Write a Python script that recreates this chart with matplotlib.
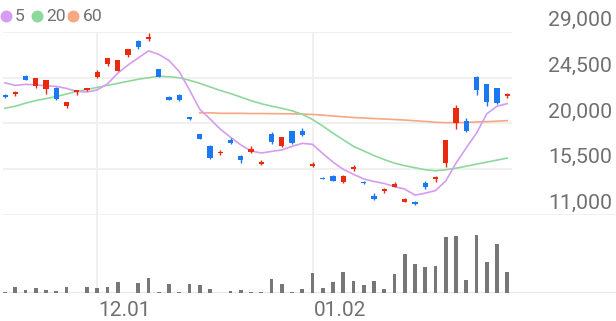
import matplotlib.pyplot as plt
from matplotlib.lines import Line2D
import numpy as np

plt.rcParams['font.family'] = ['Roboto', 'DejaVu Sans']

# daily candles, oldest first
opens = [22850, 22900, 24700, 23700, 23400, 23500, 21750, 23050, 23250, 24550,
         25900, 25200, 26750, 28100, 28300, 25350, 22650, 22850, 20600, 18950,
         17800, 17050, 18400, 16800, 17150, 16050, 19000, 17800, 19250, 19300,
         15800, 14650, 14850, 14200, 15500, 14250, 12900, 13400, 13800, 12300,
         12250, 14100, 14550, 16100, 20050, 20250, 24600, 23850, 23450, 22750]
highs = [22950, 23150, 24750, 24500, 24300, 23550, 22150, 23300, 23500, 25250,
         26450, 26250, 27350, 28250, 28900, 25400, 22700, 22900, 20650, 19000,
         17850, 17350, 18550, 16950, 17750, 16400, 19150, 18700, 19300, 19600,
         16200, 14700, 14900, 14900, 15900, 14300, 13150, 13650, 14200, 12650,
         12350, 14300, 14800, 18400, 21800, 20550, 24650, 23900, 23500, 23000]
lows = [22550, 22750, 24250, 23500, 22950, 22350, 21500, 22850, 23200, 24500,
        25700, 25150, 26500, 27350, 28100, 24550, 22300, 22250, 20350, 18450,
        16550, 16900, 17950, 16100, 17100, 15900, 18000, 17700, 18000, 18800,
        15700, 14500, 14300, 14100, 15350, 14050, 12500, 13200, 13750, 12250,
        12000, 13550, 14200, 15750, 19450, 19200, 22850, 21700, 21950, 22550]
closes = [22600, 23100, 24300, 24450, 24250, 22400, 22100, 23250, 23450, 25050,
          26400, 26200, 27300, 27500, 28500, 24600, 22350, 22300, 20400, 18500,
          16600, 17200, 18100, 16400, 17500, 16250, 18200, 18650, 18050, 18850,
          16000, 14550, 14350, 14850, 15700, 14100, 12550, 13600, 14050, 12600,
          12050, 13750, 14750, 18350, 21500, 19250, 23250, 22150, 22000, 22950]
# volume, thousand shares
volumes = [10, 57, 33, 47, 33, 17, 63, 3, 63, 47,
           57, 110, 5, 100, 147, 13, 93, 13, 93, 77,
           40, 5, 23, 30, 10, 13, 140, 90, 15, 43,
           197, 47, 110, 213, 123, 83, 120, 40, 190, 393,
           290, 263, 270, 560, 567, 130, 577, 307, 490, 207]

ma5 = [24000, 23750, 23850, 23800, 23700, 23650, 23450, 23150, 23100, 23300,
       23900, 24950, 25750, 26450, 27150, 26800, 26200, 25100, 23300, 21400,
       20450, 19450, 18650, 17900, 17300, 17100, 17250, 17400, 17750, 18050,
       17950, 17050, 16200, 15500, 15000, 14550, 14300, 14100, 13800, 13550,
       12950, 13150, 13400, 14350, 16100, 17600, 19050, 20950, 21700, 21950]
ma20 = [21500, 21700, 22000, 22250, 22450, 22650, 22900, 23150, 23350, 23550,
        23750, 23950, 24150, 24350, 24500, 24650, 24600, 24500, 24250, 23950,
        23600, 23250, 22950, 22600, 22250, 21950, 21700, 21500, 21250, 20900,
        20400, 19750, 19050, 18400, 17750, 17300, 16850, 16450, 16100, 15850,
        15650, 15450, 15350, 15450, 15600, 15800, 16000, 16200, 16400, 16600]
ma60 = [np.nan] * 19 + [
        21050, 21050, 21000, 21000, 21000, 20980, 20980, 20970, 20960, 20950,
        20930, 20890, 20820, 20740, 20660, 20590, 20540, 20490, 20440, 20390,
        20340, 20270, 20200, 20120, 20080, 20080, 20100, 20150, 20180, 20230,
        20280]

price_ticks = [11000, 15500, 20000, 24500, 29000]
date_pos = [9, 30]
date_names = ['12.01', '01.02']

W, H = 616, 321
up_color = '#ea2a10'
down_color = '#1a78f0'
grid_color = '#efefef'
text_color = '#707070'
ma_colors = ['#d69cf0', '#8fd89c', '#f6a784']

def rect(x0, y0, x1, y1):
    # pixel box (top-left origin) -> figure fraction
    return [x0 / W, 1 - y1 / H, (x1 - x0) / W, (y1 - y0) / H]

fig = plt.figure(figsize=(W / 100, H / 100), dpi=100)
ax = fig.add_axes(rect(3, 32, W, 215))
axv = fig.add_axes(rect(3, 215, W, 293))

step = 10.25
xlim = ((3 - 5) / step, (W - 5) / step)
x = np.arange(len(closes))

for a in (ax, axv):
    a.set_xlim(*xlim)
    a.axis('off')
    for d in date_pos:
        a.axvline(d, color=grid_color, lw=1.3, zorder=0)

ax.set_ylim(price_ticks[0], price_ticks[-1])
last = (512 - 5) / step
ax.hlines(price_ticks[1:], xlim[0], last, color=grid_color, lw=1.3, zorder=0)
ax.axhline(price_ticks[0], color=grid_color, lw=1.3, zorder=0)

for v in price_ticks:
    ax.annotate(f'{v:,}', xy=(1, v), xycoords=('axes fraction', 'data'),
                xytext=(-4, 6), textcoords='offset pixels', ha='right',
                va='baseline', fontsize=15.3, color=text_color)

# moving averages under the candles
for vals, c in zip([ma60, ma20, ma5], ma_colors[::-1]):
    ax.plot(x, vals, color=c, lw=1.2, zorder=1)

o = np.array(opens)
c = np.array(closes)
colors = [up_color if cc >= oo else down_color for oo, cc in zip(o, c)]
ax.vlines(x, lows, highs, color=colors, lw=1, zorder=2)
body = np.maximum(np.abs(c - o), 60)
ax.bar(x, body, bottom=np.minimum(o, c), width=0.5, color=colors, zorder=3)

# volume
axv.set_ylim(0, 780)
axv.bar(x, volumes, width=0.39, color='#777777', zorder=2)
axv.axhline(0, color='#e4e4e4', lw=1.3, zorder=1)
for d, name in zip(date_pos, date_names):
    axv.annotate(name, xy=(d, 0), xytext=(1, -23), textcoords='offset pixels',
                 ha='left', va='baseline', fontsize=15, color=text_color)

# legend
for cx, tx, label, col in zip([6, 36.7, 73.3], [15, 46.5, 83], ['5', '20', '60'], ma_colors):
    fig.add_artist(Line2D([cx / W], [1 - 15.5 / H], marker='o', ms=7.6, lw=0,
                          color=col, transform=fig.transFigure))
    fig.text(tx / W, 1 - 21.3 / H, label, fontsize=12.6, color=text_color,
             ha='left', va='baseline')

fig.savefig('out.png', dpi=100)
